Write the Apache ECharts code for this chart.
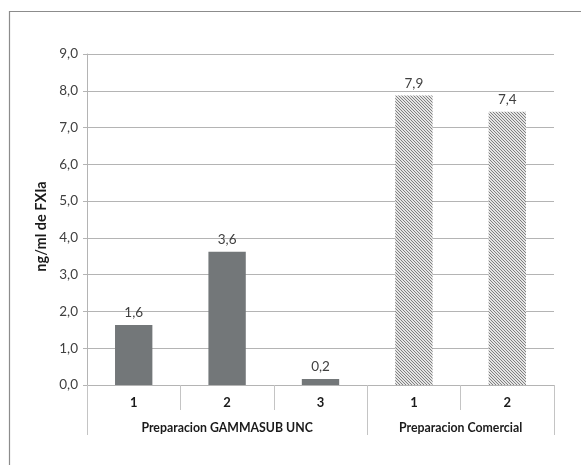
<!DOCTYPE html>
<html><head><meta charset="utf-8">
<script src="https://cdn.jsdelivr.net/npm/echarts@6/dist/echarts.min.js"></script>
<style>html,body{margin:0;padding:0;background:#fff}#c{width:581px;height:465px}</style>
</head><body><div id="c"></div>
<script>
const categories = ['1','2','3','1','2'];
const groups = ['Preparacion GAMMASUB UNC','Preparacion Comercial'];
const groupSizes = [3,2];
const values = [1.63, 3.62, 0.16, 7.87, 7.43];
const hatched = [false,false,false,true,true];
const yTicks = {min:0, max:9, interval:1};
const yName = 'ng/ml de FXIa';

const FONT = 'Lato';
// hatch pattern
const pc = document.createElement('canvas');
pc.width = 3; pc.height = 3;
const pctx = pc.getContext('2d');
pctx.fillStyle = '#e4e4e4'; pctx.fillRect(0,0,3,3);
pctx.fillStyle = '#808080';
for (let i=0;i<3;i++) pctx.fillRect(i,i,1,1);

// secondary (group) axis: half-category slots, boundaryGap false
const n = categories.length;
const slots = new Array(2*n+1).fill('');
const groupTickIdx = [0];
let start = 0;
groups.forEach((g,i)=>{
  slots[start + groupSizes[i]] = g;
  start += 2*groupSizes[i];
  groupTickIdx.push(start);
});

const chart = echarts.init(document.getElementById('c'));
chart.setOption({
  animation:false,
  textStyle:{fontFamily:FONT},
  grid:{left:87, right:27, top:54, bottom:80},
  graphic:[{type:'rect', shape:{x:9.5,y:11.5,width:620,height:520}, style:{fill:null, stroke:'#8c8c8c', lineWidth:1.2}, silent:true}],
  xAxis:[{
    type:'category', data:categories, position:'bottom',
    axisLine:{lineStyle:{color:'#b4b4b4'}},
    axisTick:{show:true, length:25, lineStyle:{color:'#c4c4c4'}},
    axisLabel:{color:'#1a1a1a', fontWeight:'bold', fontSize:13, margin:11, fontFamily:FONT}
  },{
    type:'category', data:slots, position:'bottom', boundaryGap:false,
    axisLine:{show:false},
    axisTick:{show:true, length:50, interval:(i)=>groupTickIdx.includes(i), lineStyle:{color:'#c4c4c4'}},
    axisLabel:{interval:0, color:'#1a1a1a', fontWeight:'bold', fontSize:12.3, margin:37, fontFamily:FONT}
  }],
  yAxis:{
    type:'value', min:yTicks.min, max:yTicks.max, interval:yTicks.interval,
    name:yName, nameLocation:'middle', nameGap:35, nameRotate:90,
    nameTextStyle:{fontWeight:'bold', fontSize:14.5, color:'#1a1a1a', fontFamily:FONT, padding:[0,14,0,0]},
    axisLine:{show:true, lineStyle:{color:'#b4b4b4'}},
    axisTick:{show:true, length:4, lineStyle:{color:'#b4b4b4'}},
    splitLine:{lineStyle:{color:'#b4b4b4'}},
    axisLabel:{color:'#404040', fontSize:13.5, margin:9, fontFamily:FONT,
      formatter:v=>v.toFixed(1).replace('.',',')}
  },
  series:[{
    type:'bar', xAxisIndex:0, barWidth:'40%',
    data: values.map((v,i)=>({value:v, itemStyle:{color: hatched[i] ? {image:pc, repeat:'repeat'} : '#737779'}})),
    label:{show:true, position:'top', distance:5, color:'#404040', fontSize:13.5, fontFamily:FONT,
      formatter:p=>p.value.toFixed(1).replace('.',',')}
  }]
});
</script></body></html>
